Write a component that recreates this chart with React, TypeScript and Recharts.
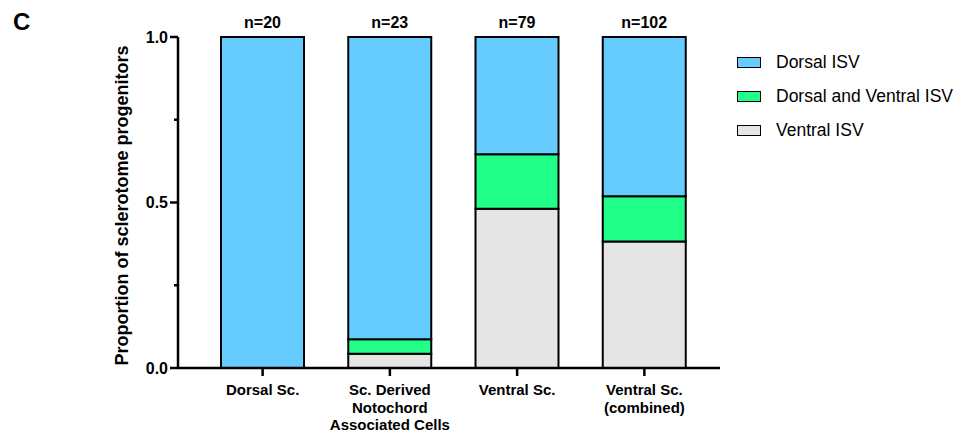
import {
  BarChart,
  Bar,
  XAxis,
  YAxis,
  Legend,
  LabelList
} from "recharts";

const categories = [
  "Dorsal Sc.",
  "Sc. Derived\nNotochord\nAssociated Cells",
  "Ventral Sc.",
  "Ventral Sc.\n(combined)"
];
const counts = [20, 23, 79, 102];
const ventralIsv = [0, 0.043, 0.481, 0.382];
const bothIsv = [0, 0.044, 0.165, 0.137];
const dorsalIsv = [1, 0.913, 0.354, 0.481];
const yTicks = [0, 0.25, 0.5, 0.75, 1];
const yTickLabels: Record<number, string> = { 0: "0.0", 0.5: "0.5", 1: "1.0" };

const legendItems = [
  { name: "Dorsal ISV", color: "#66CCFF" },
  { name: "Dorsal and Ventral ISV", color: "#22FF88" },
  { name: "Ventral ISV", color: "#E5E5E5" }
];

const data = categories.map((c, i) => ({
  name: c,
  n: counts[i],
  ventral: ventralIsv[i],
  both: bothIsv[i],
  dorsal: dorsalIsv[i]
}));

const FONT = "'Liberation Sans', Arial, Helvetica, sans-serif";

function XTick(props: any) {
  const { x, y, payload } = props;
  const lines = String(payload.value).split("\n");
  return (
    <g>
      {lines.map((l, i) => (
        <text
          key={i}
          x={x}
          y={y + 17 + i * 17.5}
          textAnchor="middle"
          fontFamily={FONT}
          fontWeight="bold"
          fontSize={15}
          fill="#000"
        >
          {l}
        </text>
      ))}
    </g>
  );
}

function YTick(props: any) {
  const { x, y, payload } = props;
  const label = yTickLabels[payload.value];
  const major = label !== undefined;
  return (
    <g>
      <line
        x1={major ? x + 2 : x + 6}
        x2={x + 10}
        y1={y}
        y2={y}
        stroke="#000"
        strokeWidth={2.5}
      />
      {major && (
        <text
          x={x}
          y={y}
          dy="0.35em"
          textAnchor="end"
          fontFamily={FONT}
          fontWeight="bold"
          fontSize={16}
          fill="#000"
        >
          {label}
        </text>
      )}
    </g>
  );
}

function LegendBox() {
  return (
    <div style={{ fontFamily: FONT, fontSize: 17.5, color: "#000" }}>
      {legendItems.map((it) => (
        <div
          key={it.name}
          style={{ display: "flex", alignItems: "center", height: 34 }}
        >
          <span
            style={{
              display: "inline-block",
              width: 22,
              height: 9,
              background: it.color,
              border: "1.5px solid #000",
              marginRight: 15
            }}
          />
          <span>{it.name}</span>
        </div>
      ))}
    </div>
  );
}

export default function App() {
  return (
    <div
      style={{
        position: "absolute",
        left: 0,
        top: 0,
        width: 974,
        height: 435,
        background: "#fff"
      }}
    >
      <div
        style={{
          position: "absolute",
          left: 13,
          top: 8,
          fontFamily: FONT,
          fontWeight: "bold",
          fontSize: 24
        }}
      >
        C
      </div>
      <BarChart
        width={974}
        height={435}
        data={data}
        margin={{ top: 37, right: 254, bottom: 37, left: 0 }}
        barSize={83}
      >
        <XAxis
          dataKey="name"
          interval={0}
          height={30}
          padding={{ left: 21, right: 12 }}
          axisLine={{ stroke: "#000", strokeWidth: 2.5 }}
          tickLine={{ stroke: "#000", strokeWidth: 2.5 }}
          tickSize={8}
          tick={<XTick />}
        />
        <YAxis
          width={178}
          domain={[0, 1]}
          ticks={yTicks}
          interval={0}
          axisLine={{ stroke: "#000", strokeWidth: 2.5 }}
          tickLine={false}
          tickSize={8}
          tickMargin={2}
          tick={<YTick />}
          label={{
            value: "Proportion of sclerotome progenitors",
            angle: -90,
            position: "center",
            dx: 33,
            dy: 3,
            style: {
              fontFamily: FONT,
              fontWeight: "bold",
              fontSize: 18,
              fill: "#000",
              textAnchor: "middle"
            }
          }}
        />
        <Legend
          layout="horizontal"
          align="center"
          verticalAlign="middle"
          content={() => <LegendBox />}
          wrapperStyle={{ left: 737, top: 45, width: 230 }}
        />
        <Bar
          dataKey="ventral"
          stackId="a"
          fill="#E5E5E5"
          stroke="#000"
          strokeWidth={2}
          isAnimationActive={false}
        />
        <Bar
          dataKey="both"
          stackId="a"
          fill="#22FF88"
          stroke="#000"
          strokeWidth={2}
          isAnimationActive={false}
        />
        <Bar
          dataKey="dorsal"
          stackId="a"
          fill="#66CCFF"
          stroke="#000"
          strokeWidth={2}
          isAnimationActive={false}
        >
          <LabelList
            dataKey="n"
            position="top"
            offset={9}
            formatter={(v: any) => `n=${v}`}
            style={{
              fontFamily: FONT,
              fontWeight: "bold",
              fontSize: 16,
              fill: "#000"
            }}
          />
        </Bar>
      </BarChart>
    </div>
  );
}
